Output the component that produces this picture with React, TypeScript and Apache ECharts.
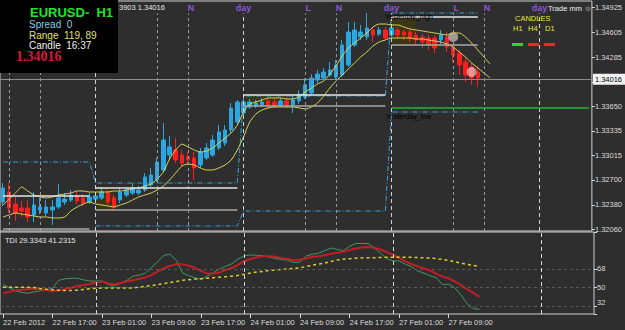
import React, { useEffect, useRef } from "react";
import * as echarts from "echarts";

// ---------- categories (hourly bars) ----------
const DAY_NAMES = ["22 Feb", "23 Feb", "24 Feb", "27 Feb", "28 Feb"];
const DAY_FIRST_HOUR = [9, 0, 0, 0, 0];
const DAY_LAST_HOUR = [23, 23, 23, 23, 8];

const TIME_TICK_INDEX = [0, 8, 16, 24, 32, 40, 48, 56, 64, 72];
const TIME_TICK_LABELS = [
  "22 Feb 2012", "22 Feb 17:00", "23 Feb 01:00", "23 Feb 09:00", "23 Feb 17:00",
  "24 Feb 01:00", "24 Feb 09:00", "24 Feb 17:00", "27 Feb 01:00", "27 Feb 09:00",
];

// ---------- price axis ----------
const PRICE_MIN = 1.32042;
const PRICE_MAX = 1.35009;
const PRICE_TICKS = [1.3206, 1.3238, 1.327, 1.33015, 1.33335, 1.3365, 1.33965, 1.34285, 1.34605, 1.34925];
// the 1.33965 label sits under the current-price box
const PRICE_LABELS = [1.3206, 1.3238, 1.327, 1.33015, 1.33335, 1.3365, 1.34285, 1.34605, 1.34925];
const BID = 1.34016;

// ---------- candles ----------
const OPEN = [
  1.32416, 1.32545, 1.3239, 1.32339, 1.32339, 1.32249, 1.32313, 1.32274, 1.32313, 1.32352,
  1.32416, 1.32442, 1.32494, 1.32468, 1.32416, 1.32455, 1.32468, 1.32532, 1.32468, 1.32442,
  1.32507, 1.32532, 1.32532, 1.32571, 1.32636, 1.327, 1.32829, 1.33023, 1.33087, 1.33023,
  1.32997, 1.32984, 1.32894, 1.32984, 1.33023, 1.33113, 1.33177, 1.33345, 1.33448, 1.33564,
  1.33642, 1.33655, 1.33668, 1.33719, 1.33706, 1.33668, 1.33719, 1.33668, 1.33719, 1.33771,
  1.33822, 1.3399, 1.34016, 1.34055, 1.34029, 1.34055, 1.34184, 1.34442, 1.34545, 1.34545,
  1.34635, 1.34583, 1.34635, 1.34571, 1.34635, 1.34609, 1.34609, 1.34571, 1.34545, 1.34532,
  1.34532, 1.34506, 1.34545, 1.34416, 1.34338, 1.34222, 1.34158, 1.34093,
];
const CLOSE = [
  1.32597, 1.32339, 1.32274, 1.323, 1.32223, 1.32378, 1.32352, 1.32352, 1.32352, 1.32468,
  1.32455, 1.32507, 1.32429, 1.32403, 1.32481, 1.32494, 1.32545, 1.32416, 1.32352, 1.32545,
  1.32571, 1.32597, 1.32571, 1.32739, 1.32765, 1.32932, 1.33216, 1.33126, 1.32958, 1.32919,
  1.32958, 1.32855, 1.33061, 1.33113, 1.33216, 1.33319, 1.33345, 1.33629, 1.33706, 1.33706,
  1.33706, 1.33693, 1.33706, 1.33655, 1.33655, 1.33719, 1.33668, 1.33732, 1.33809, 1.33926,
  1.34016, 1.34067, 1.34093, 1.34119, 1.34184, 1.34442, 1.34609, 1.34635, 1.34609, 1.34661,
  1.34571, 1.34635, 1.34532, 1.34661, 1.34571, 1.34571, 1.34532, 1.34506, 1.3448, 1.34442,
  1.34403, 1.34571, 1.34416, 1.34313, 1.34184, 1.34055, 1.34016, 1.34016,
];
const HIGH = [
  1.32661, 1.32661, 1.32481, 1.32429, 1.32442, 1.32545, 1.32468, 1.32442, 1.32442, 1.32648,
  1.32532, 1.32571, 1.32545, 1.32519, 1.32532, 1.32545, 1.32597, 1.32571, 1.32507, 1.32597,
  1.3261, 1.32661, 1.32623, 1.3279, 1.32855, 1.32984, 1.33435, 1.33268, 1.33242, 1.33087,
  1.33061, 1.33061, 1.33113, 1.33177, 1.33281, 1.3341, 1.3341, 1.33693, 1.33732, 1.33745,
  1.33745, 1.33732, 1.33758, 1.33758, 1.33745, 1.33758, 1.33771, 1.33784, 1.33861, 1.34016,
  1.34067, 1.34119, 1.34145, 1.34222, 1.34248, 1.34506, 1.34738, 1.34738, 1.347, 1.34854,
  1.34674, 1.34674, 1.34674, 1.347, 1.34674, 1.34635, 1.34635, 1.34609, 1.34583, 1.34571,
  1.34571, 1.34635, 1.34609, 1.34454, 1.34377, 1.34274, 1.34209, 1.34171,
];
const LOW = [
  1.32365, 1.32274, 1.32171, 1.32223, 1.32158, 1.32158, 1.32261, 1.32236, 1.3212, 1.32326,
  1.32378, 1.32416, 1.3239, 1.32365, 1.3239, 1.32429, 1.32442, 1.32378, 1.323, 1.32403,
  1.32481, 1.32507, 1.32507, 1.32545, 1.3261, 1.32674, 1.32803, 1.32958, 1.32919, 1.32868,
  1.32894, 1.327, 1.32855, 1.32958, 1.32997, 1.33087, 1.33139, 1.33306, 1.3341, 1.33539,
  1.33616, 1.33629, 1.33642, 1.33616, 1.33629, 1.33642, 1.33629, 1.33564, 1.3368, 1.33745,
  1.33797, 1.33951, 1.3399, 1.34029, 1.34003, 1.34029, 1.34158, 1.34416, 1.34506, 1.34506,
  1.3448, 1.34558, 1.34506, 1.34545, 1.34532, 1.34506, 1.3448, 1.34442, 1.34403, 1.34377,
  1.34338, 1.34454, 1.34351, 1.34222, 1.34055, 1.33964, 1.33926, 1.33903,
];

// ---------- yellow envelope bands ----------
const BAND_UPPER = [
  1.32378, 1.32455, 1.32532, 1.3261, 1.32558, 1.32507, 1.32481, 1.32468, 1.32481, 1.32507,
  1.32519, 1.32532, 1.32558, 1.32558, 1.32545, 1.32545, 1.32545, 1.32545, 1.32558, 1.32558,
  1.32571, 1.32584, 1.32597, 1.32623, 1.32648, 1.32713, 1.32803, 1.32971, 1.33087, 1.33164,
  1.33126, 1.33087, 1.33061, 1.33074, 1.33113, 1.33177, 1.33242, 1.33306, 1.3341, 1.33577,
  1.3368, 1.33706, 1.33732, 1.33758, 1.33758, 1.33758, 1.33745, 1.33745, 1.33771, 1.33835,
  1.33887, 1.33938, 1.33977, 1.34067, 1.34171, 1.343, 1.34403, 1.34467, 1.34532, 1.34596,
  1.34674, 1.34712, 1.34712, 1.347, 1.347, 1.34674, 1.34648, 1.34635, 1.34622, 1.34609,
  1.34596, 1.34583, 1.34571, 1.34596, 1.34596, 1.34545, 1.34467, 1.34377, 1.34287, 1.34196,
];
const BAND_LOWER = [
  1.32223, 1.32249, 1.32274, 1.32261, 1.32249, 1.32236, 1.32223, 1.32223, 1.3221, 1.3221,
  1.32223, 1.323, 1.32352, 1.3239, 1.32416, 1.3239, 1.32378, 1.32365, 1.32352, 1.32378,
  1.32403, 1.32442, 1.32481, 1.32507, 1.32532, 1.32571, 1.32623, 1.327, 1.3279, 1.32881,
  1.32906, 1.32894, 1.32855, 1.32829, 1.32829, 1.32855, 1.32894, 1.32958, 1.33087, 1.33255,
  1.33448, 1.33551, 1.33603, 1.33629, 1.33642, 1.33642, 1.33642, 1.33642, 1.33629, 1.33616,
  1.33642, 1.33693, 1.33784, 1.33887, 1.33977, 1.34055, 1.34132, 1.34209, 1.34287, 1.34351,
  1.34429, 1.3448, 1.34506, 1.34532, 1.34532, 1.34532, 1.34532, 1.34519, 1.34519, 1.34506,
  1.34493, 1.3448, 1.34454, 1.34416, 1.34351, 1.34287, 1.34209, 1.34145, 1.3408, 1.34016,
];

// ---------- daily levels ----------
const DAY_START = [0, 15, 39, 63];
const DAY_END = [14, 38, 62, 77];
const RANGE_HIGH = [1.32932, 1.32661, 1.33784, 1.34854];
const RANGE_LOW = [null, 1.32107, 1.323, 1.33577];
const ASIAN_HIGH = [1.32494, 1.32597, 1.33797, 1.34803];
const ASIAN_LOW = [1.32068, 1.32313, 1.33655, 1.34442];
const BOX_DAY = [1, 2, 3];
const BOX_START = [15, 39, 63];
const BOX_END = [18, 47, 67];
const GREEN_LEVEL = 1.33629;
const GREEN_START = 63;

// ---------- session separators ----------
const SESSION_IDX = [1, 6, 15, 25, 30, 39, 49, 54, 63, 73, 78, 87];
const SESSION_KIND = ["L", "N", "day", "L", "N", "day", "L", "N", "day", "L", "N", "day"];
// labels of the first lines lie under the info panel / header text
const SESSION_TEXT = ["", "", "", "", "N", "day", "L", "N", "day", "L", "N", "day"];
const SESSION_TOP = 1.3485;

// ---------- pattern markers ----------
const MARKER_IDX = [73, 76];
const MARKER_PRICE = [1.34545, 1.34093];

// ---------- TDI ----------
const TDI_MIN = 24.8145;
const TDI_MAX = 103.2652;
const TDI_TICKS = [24.8145, 32, 50, 68, 103.2652];
const TDI_LEVELS = [68, 50, 32];
const TDI_LEVEL_LABELS = ["68", "50", "32"];
const TDI_GREEN = [
  53, 50, 47, 45.5, 44.6, 46, 47, 48, 49.5, 57,
  58.5, 59, 59, 57.5, 56.3, 56.3, 56.3, 53, 51.5, 54.5,
  57, 61, 62, 64, 69.5, 75, 81, 82, 76, 64,
  61.5, 59.5, 58, 61, 64.5, 68, 70.5, 73, 77.5, 80.5,
  81.3, 81, 80.6, 79.3, 78, 77, 76.3, 74, 74.6, 80.3,
  82, 83, 85.5, 88, 86.5, 85.6, 89.5, 92.3, 92.3, 92.3,
  88, 83, 78, 75.6, 75.6, 72.5, 70, 66, 64, 61.3,
  59.6, 53, 53.4, 50, 43, 34.6, 30, 29.3343,
];
const TDI_RED = [
  44.6, 46, 47.5, 48, 48.5, 49, 48.5, 47.5, 46.5, 47.5,
  48.5, 50, 51.5, 52.5, 53.5, 55, 56, 54, 53, 54.5,
  56, 57, 58.5, 59.8, 62, 65.5, 68.5, 71, 72.3, 72.3,
  71, 69, 66, 63.5, 63.5, 64.6, 67, 69, 72, 75.5,
  77.5, 79, 80.2, 80, 79.6, 78.5, 77.5, 76.3, 77, 78,
  79.5, 80, 81, 82.5, 83.5, 84.5, 86, 87.5, 88.5, 89,
  88.3, 86.5, 84, 81.5, 78.5, 75.5, 72.5, 70.5, 68.5, 66.3,
  63.5, 60.5, 59, 56, 52.5, 48.5, 45, 41.2315,
];
const TDI_BASE = [
  50.3, 50.3, 50.3, 50.3, 50.3, 50.2, 49.3, 48.5, 48, 47.6,
  47.2, 47.2, 47.6, 48.3, 49, 49.5, 49.6, 49.6, 49.6, 49.6,
  49.6, 49.8, 50.5, 51.3, 52, 53, 54, 55, 56, 57,
  57.6, 58.2, 58.6, 59, 59.5, 60, 60.5, 61, 61.8, 62.8,
  64, 65, 65.5, 66.5, 67, 67.5, 68, 68.5, 69, 70.3,
  71.5, 72.5, 73.5, 75, 76.5, 77.2, 77.7, 78.2, 78.5, 78.6,
  78.7, 78.8, 79, 79, 79, 79, 79, 78.8, 78.5, 78.3,
  77.8, 77, 76, 74.8, 73.5, 72.3, 71.3, 70.3,
];

// ---------- styles ----------
const BG = "#2e2e2e";
const FONT = "Liberation Sans";
const AXIS_TEXT = "#dcdcdc";
const BORDER = "#cfcfcf";
const UP = "#2aa7e0";
const DOWN = "#ff1e1e";
const BAND = "#dcd85a";
const CYAN = "#38a2d8";
const PURPLE = "#8a56d6";

function buildCategories(): string[] {
  const out: string[] = [];
  DAY_NAMES.forEach((d, k) => {
    for (let h = DAY_FIRST_HOUR[k]; h <= DAY_LAST_HOUR[k]; h++) {
      out.push(`${d} ${String(h).padStart(2, "0")}:00`);
    }
  });
  return out;
}

function dayLevelSeries(levels: (number | null)[]): (number | null)[] {
  const out: (number | null)[] = [];
  DAY_START.forEach((s, d) => {
    for (let i = s; i <= DAY_END[d]; i++) out.push(levels[d]);
  });
  return out;
}

function buildOption() {
  const categories = buildCategories();
  const candles = OPEN.map((o, i) => [o, CLOSE[i], LOW[i], HIGH[i]]);

  const sessionLines = SESSION_IDX.map((ix, k) => {
    const isDay = SESSION_KIND[k] === "day";
    return [
      {
        xAxis: ix,
        yAxis: PRICE_MIN,
        lineStyle: {
          color: isDay ? "#d2d2d2" : "#9a9a9a",
          width: 1,
          type: isDay ? [4, 3] : [3, 3],
        },
        label: {
          show: SESSION_TEXT[k] !== "",
          formatter: SESSION_TEXT[k] || " ",
          position: "end",
          distance: 1,
          offset: isDay ? [0, 0] : [3, 0],
          color: PURPLE,
          fontWeight: "bold",
          fontSize: 9,
          fontFamily: FONT,
        },
      },
      { xAxis: ix, yAxis: SESSION_TOP },
    ];
  });

  const asianLines: any[] = [];
  DAY_START.forEach((s, d) => {
    asianLines.push([
      { xAxis: s, yAxis: ASIAN_HIGH[d], lineStyle: { color: "#e6e6e6", width: 1.5, type: "solid" } },
      { xAxis: DAY_END[d], yAxis: ASIAN_HIGH[d] },
    ]);
    asianLines.push([
      { xAxis: s, yAxis: ASIAN_LOW[d], lineStyle: { color: "#a8a8a8", width: 1.5, type: "solid" } },
      { xAxis: DAY_END[d], yAxis: ASIAN_LOW[d] },
    ]);
  });

  const boxes = BOX_DAY.map((d, k) => [
    { xAxis: BOX_START[k], yAxis: ASIAN_HIGH[d] },
    { xAxis: BOX_END[k], yAxis: ASIAN_LOW[d] },
  ]);

  const levelLabel = (text: string, dy: number, size = 7.5, dist = 3) => ({
    show: true,
    position: "end",
    distance: dist,
    offset: [0, dy],
    formatter: text,
    color: AXIS_TEXT,
    fontSize: size,
    fontFamily: FONT,
  });

  const txt = (text: string, x: number, y: number, fill: string, size: number, weight = "normal", family = FONT) => ({
    type: "text",
    z: 101,
    x,
    y,
    style: { text, fill, fontSize: size, fontWeight: weight, fontFamily: family, verticalAlign: "middle", align: "left" },
  });

  return {
    animation: false,
    backgroundColor: BG,
    textStyle: { fontFamily: FONT },
    grid: [
      { left: 0, right: 31, top: 1, height: 230, show: true, borderColor: BORDER, borderWidth: 1, backgroundColor: "transparent" },
      { left: 0, right: 31, top: 232, height: 82, show: true, borderColor: BORDER, borderWidth: 1, backgroundColor: "transparent" },
    ],
    xAxis: [
      {
        type: "category",
        gridIndex: 0,
        data: categories,
        axisLine: { show: false },
        axisTick: { show: false },
        axisLabel: { show: false },
        splitLine: { show: false },
      },
      {
        type: "category",
        gridIndex: 1,
        data: categories,
        axisLine: { show: false },
        axisTick: {
          show: true,
          alignWithLabel: true,
          length: 4,
          interval: (i: number) => TIME_TICK_INDEX.includes(i),
          lineStyle: { color: "#d8d8d8" },
        },
        axisLabel: {
          interval: (i: number) => TIME_TICK_INDEX.includes(i),
          formatter: (_v: string, i: number) => {
            const k = TIME_TICK_INDEX.indexOf(i);
            return k >= 0 ? TIME_TICK_LABELS[k] : "";
          },
          align: "left",
          color: AXIS_TEXT,
          fontSize: 7.5,
          fontFamily: FONT,
          margin: 4,
        },
        splitLine: { show: false },
      },
    ],
    yAxis: [
      {
        type: "value",
        gridIndex: 0,
        position: "right",
        min: PRICE_MIN,
        max: PRICE_MAX,
        splitLine: { show: false },
        axisLine: { show: false },
        axisTick: { show: true, customValues: PRICE_TICKS, length: 3, lineStyle: { color: "#d8d8d8" } },
        axisLabel: {
          customValues: PRICE_LABELS,
          formatter: (v: number) => v.toFixed(5),
          color: AXIS_TEXT,
          fontSize: 7.5,
          fontFamily: FONT,
          margin: 3,
        },
      },
      {
        type: "value",
        gridIndex: 1,
        position: "right",
        min: TDI_MIN,
        max: TDI_MAX,
        splitLine: { show: false },
        axisLine: { show: false },
        axisTick: { show: true, customValues: TDI_TICKS, length: 3, lineStyle: { color: "#d8d8d8" } },
        axisLabel: { show: false },
      },
    ],
    series: [
      {
        name: "levels",
        type: "line",
        xAxisIndex: 0,
        yAxisIndex: 0,
        data: [],
        markArea: {
          silent: true,
          itemStyle: { color: "#3b3716" },
          data: boxes,
        },
        markLine: {
          silent: true,
          symbol: ["none", "none"],
          label: { show: false },
          data: [...sessionLines, ...asianLines],
        },
      },
      {
        name: "rangeHigh",
        type: "line",
        xAxisIndex: 0,
        yAxisIndex: 0,
        data: dayLevelSeries(RANGE_HIGH),
        showSymbol: false,
        symbol: "none",
        lineStyle: { color: CYAN, width: 1, type: [5, 2, 1, 2] },
      },
      {
        name: "rangeLow",
        type: "line",
        xAxisIndex: 0,
        yAxisIndex: 0,
        data: dayLevelSeries(RANGE_LOW),
        showSymbol: false,
        symbol: "none",
        connectNulls: false,
        lineStyle: { color: CYAN, width: 1, type: [5, 2, 1, 2] },
      },
      {
        name: "EURUSD",
        type: "candlestick",
        xAxisIndex: 0,
        yAxisIndex: 0,
        data: candles,
        barWidth: 4,
        itemStyle: { color: UP, color0: DOWN, borderColor: UP, borderColor0: DOWN, borderWidth: 1 },
        markLine: {
          silent: true,
          symbol: ["none", "none"],
          data: [
            {
              yAxis: BID,
              lineStyle: { color: "#8c8c8c", width: 1, type: "solid" },
              label: {
                show: true,
                position: "end",
                distance: 1,
                formatter: BID.toFixed(5),
                backgroundColor: "#f2f2f2",
                color: "#000",
                fontSize: 7.5,
                fontFamily: FONT,
                padding: [2, 3, 1, 2],
              },
            },
            [
              { xAxis: GREEN_START, yAxis: GREEN_LEVEL, lineStyle: { color: "#22b83a", width: 1.5, type: "solid" }, label: { show: false } },
              { xAxis: categories.length - 1, yAxis: GREEN_LEVEL },
            ],
          ],
        },
      },
      {
        name: "bandUpper",
        type: "line",
        xAxisIndex: 0,
        yAxisIndex: 0,
        data: BAND_UPPER,
        showSymbol: false,
        symbol: "none",
        smooth: 0.2,
        lineStyle: { color: BAND, width: 1 },
      },
      {
        name: "bandLower",
        type: "line",
        xAxisIndex: 0,
        yAxisIndex: 0,
        data: BAND_LOWER,
        showSymbol: false,
        symbol: "none",
        smooth: 0.2,
        lineStyle: { color: BAND, width: 1 },
      },
      {
        name: "markers",
        type: "scatter",
        xAxisIndex: 0,
        yAxisIndex: 0,
        data: MARKER_IDX.map((ix, k) => [ix, MARKER_PRICE[k]]),
        symbol: "circle",
        symbolSize: 10,
        itemStyle: { color: "rgba(255,228,228,0.72)" },
      },
      {
        name: "TDI price",
        type: "line",
        xAxisIndex: 1,
        yAxisIndex: 1,
        data: TDI_GREEN,
        showSymbol: false,
        symbol: "none",
        lineStyle: { color: "#3d9a60", width: 1 },
        markLine: {
          silent: true,
          symbol: ["none", "none"],
          label: { show: false },
          data: [
            ...TDI_LEVELS.map((v, k) => ({
              yAxis: v,
              lineStyle: { color: "#5a5a5a", width: 1, type: [3, 3] },
              label: levelLabel(TDI_LEVEL_LABELS[k], v === 32 ? -4 : 0),
            })),
            {
              // drawn a hair inside the pane so the marker is not filtered out at the edge
              yAxis: TDI_MIN + 0.2,
              lineStyle: { color: BORDER, width: 1, opacity: 0 },
              label: levelLabel(TDI_MIN.toFixed(4), -3, 7, 2),
            },
            {
              yAxis: TDI_MAX - 0.2,
              lineStyle: { color: BORDER, width: 1, opacity: 0 },
              label: levelLabel(TDI_MAX.toFixed(4), 5, 6.8, 2),
            },
            ...SESSION_IDX.filter((_, k) => SESSION_KIND[k] === "day").map((ix) => ({
              xAxis: ix,
              lineStyle: { color: "#d8d8d8", width: 1, type: [4, 3] },
            })),
          ],
        },
      },
      {
        name: "TDI signal",
        type: "line",
        xAxisIndex: 1,
        yAxisIndex: 1,
        data: TDI_RED,
        showSymbol: false,
        symbol: "none",
        lineStyle: { color: "#c41e24", width: 2 },
      },
      {
        name: "TDI base",
        type: "line",
        xAxisIndex: 1,
        yAxisIndex: 1,
        data: TDI_BASE,
        showSymbol: false,
        symbol: "none",
        lineStyle: { color: "#d6d22e", width: 1.5, type: [3, 3] },
      },
    ],
    graphic: [
      { type: "rect", z: 100, shape: { x: 0, y: 0, width: 118, height: 73 }, style: { fill: "#000" } },
      txt("EURUSD-  H1", 30, 12, "#1ee62a", 13, "bold"),
      txt("Spread  0", 29, 24.5, "#86cfe8", 10),
      txt("Range  119, 89", 29, 35, "#e6e070", 10),
      txt("Candle  16:37", 29, 45.5, "#f2f2f2", 10),
      txt("1.34016", 16, 56.5, "#d8173c", 14, "bold", "Liberation Serif"),
      txt("3903 1.34016", 119, 7, "#e8e8e8", 7.5),
      txt("Trade mm \u263A", 548, 8, "#f0f0f0", 7.5),
      txt("CANDLES", 515, 18, "#e8e83c", 7.5),
      txt("H1", 513, 28, "#e8e83c", 7.5),
      txt("H4", 528, 28, "#e8e83c", 7.5),
      txt("D1", 545, 28, "#e8e83c", 7.5),
      { type: "rect", z: 101, shape: { x: 512, y: 43, width: 11, height: 3 }, style: { fill: "#22dd22" } },
      { type: "rect", z: 101, shape: { x: 528, y: 43, width: 11, height: 3 }, style: { fill: "#ff2020" } },
      { type: "rect", z: 101, shape: { x: 544, y: 43, width: 11, height: 3 }, style: { fill: "#ff2020" } },
      txt("TDI 29.3343 41.2315", 5, 240, "#e8e8e8", 7.5),
      txt("Yesterday_high", 385, 16, "#000", 7),
      txt("Yesterday_low", 386, 116, "#000", 7),
    ],
  };
}

export default function App() {
  const ref = useRef<HTMLDivElement>(null);
  useEffect(() => {
    if (!ref.current) return;
    const chart = echarts.init(ref.current, null, { renderer: "svg" });
    chart.setOption(buildOption() as any);
    return () => chart.dispose();
  }, []);
  return (
    <div
      ref={ref}
      style={{ position: "fixed", left: 0, top: 0, width: 625, height: 330, background: BG }}
    />
  );
}
